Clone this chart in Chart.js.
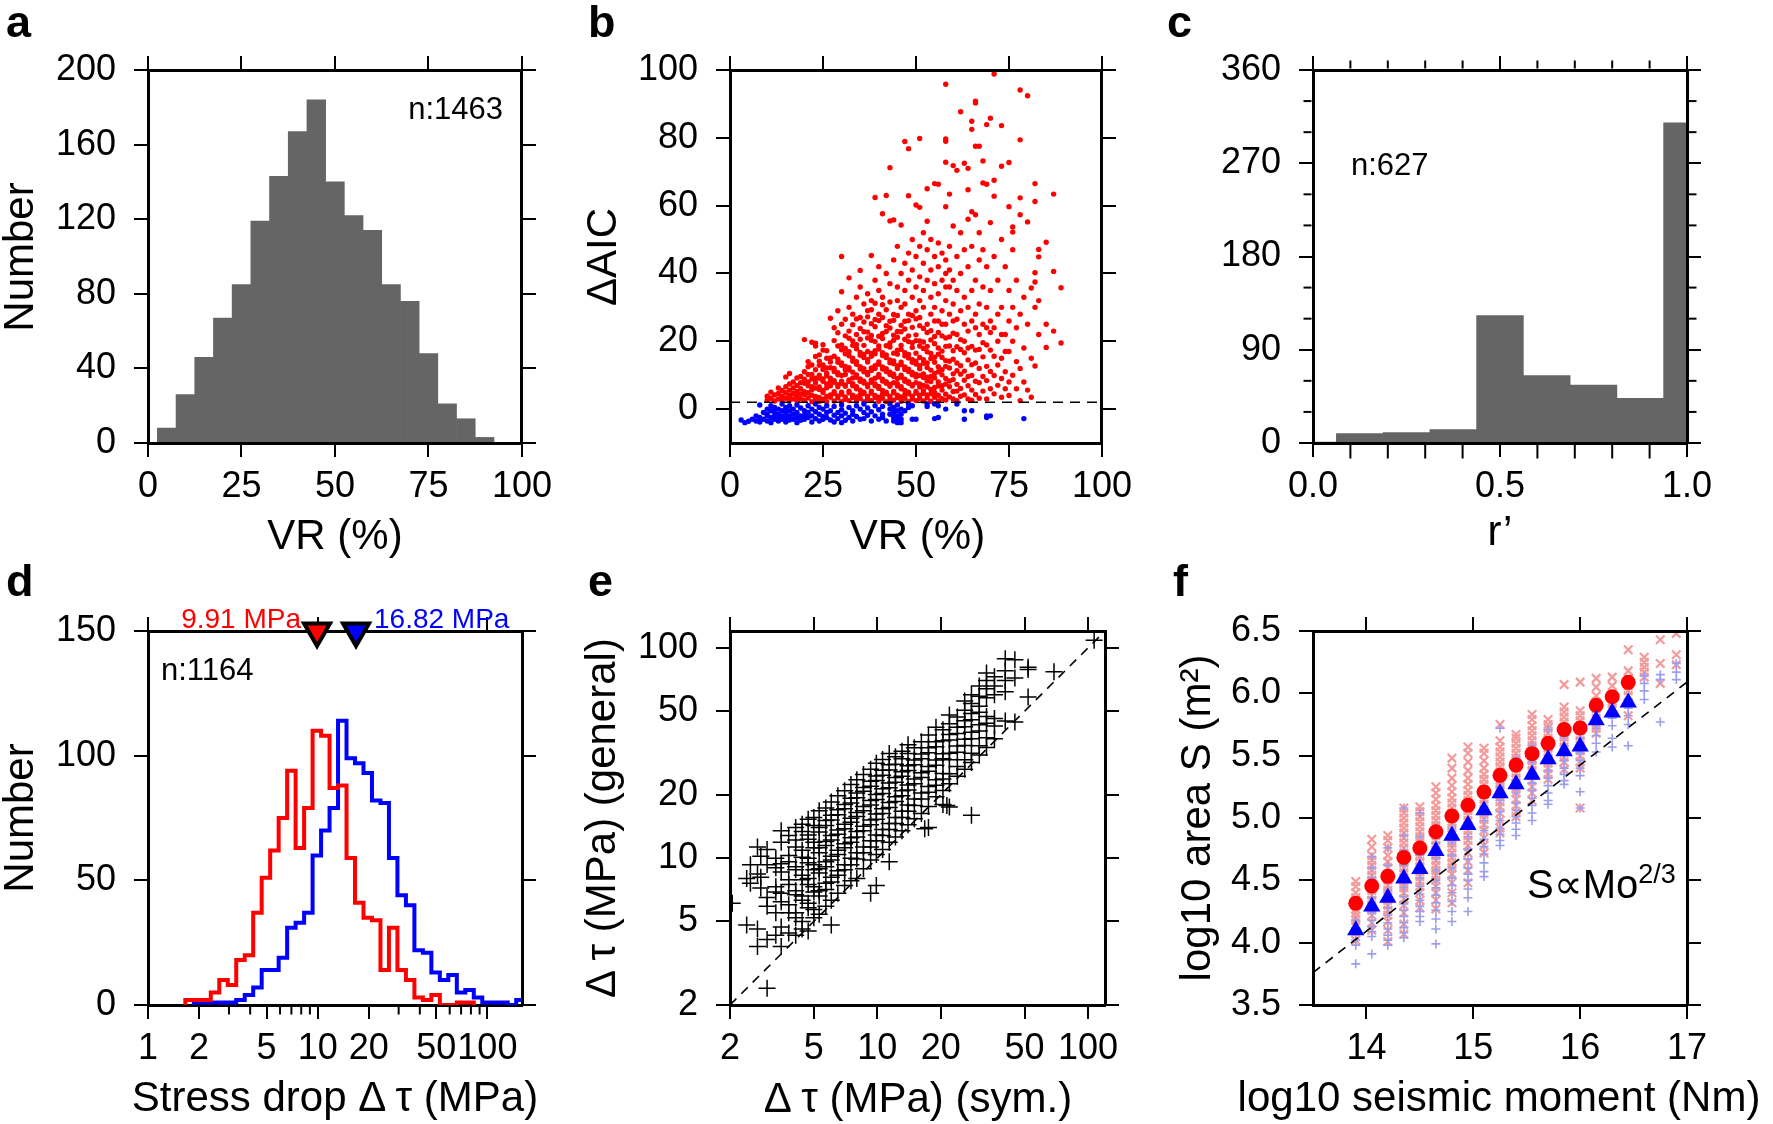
<!DOCTYPE html>
<html>
<head>
<meta charset="utf-8">
<title>Stress drop figure</title>
<script src="https://cdn.jsdelivr.net/npm/chart.js@4.4.1/dist/chart.umd.min.js"></script>
<style>
  html, body { margin: 0; padding: 0; background: #fff; }
  body { position: relative; width: 1773px; height: 1124px; overflow: hidden;
         font-family: "Liberation Sans", Arial, Helvetica, sans-serif; color: #000; }
  canvas { position: absolute; }
  .txt { position: absolute; line-height: 1; white-space: nowrap; }
</style>
</head>
<body>
<canvas id="chartA" width="560" height="560" style="left:0;top:0"></canvas>
<canvas id="chartB" width="580" height="560" style="left:560px;top:0"></canvas>
<canvas id="chartC" width="633" height="560" style="left:1140px;top:0"></canvas>
<canvas id="chartD" width="560" height="564" style="left:0;top:560px"></canvas>
<canvas id="chartE" width="580" height="564" style="left:560px;top:560px"></canvas>
<canvas id="chartF" width="633" height="564" style="left:1140px;top:560px"></canvas>
<script>
// ---------- data ----------
// a: VR histogram (bin centres, counts)
const vrBinCenters = [5, 10, 15, 20, 25, 30, 35, 40, 45, 50, 55, 60, 65, 70, 75, 80, 85, 90];
const vrCounts = [8, 26, 46, 67, 85, 119, 143, 167, 184, 140, 122, 114, 85, 76, 48, 21, 13, 3];

// b: dAIC against VR, red = above 2, blue = below 2
const aicRedVR = [10,11,12,13,14,15,16,17,18,19,20,21,22,23,24,25,26,27,28,29,30,31,32,33,34,35,36,37,38,39,
  40,41,42,43,44,45,46,47,48,49,50,51,52,53,54,55,56,57,58,59,60,61,62,63,64,65,66,67,68,69,70,71,72,73,74,
  75,76,77,78,79,80,81,82,83,85,87,89];
const aicRedVals = [
  [2.6, 3.8],
  [3.2, 5.0],
  [2.4, 4.2],
  [3.0, 4.6, 6.2],
  [2.5, 3.8, 5.5],
  [3.2, 4.8, 6.6, 9.5],
  [2.6, 4.0, 5.6, 7.4, 10.5],
  [3.0, 4.6, 6.2, 8.0],
  [2.4, 3.8, 5.2, 7.0, 9.2],
  [3.1, 4.5, 6.0, 7.8, 9.6],
  [2.6, 4.3, 5.1, 7.6, 8.8, 11.0, 20.5],
  [3.3, 4.8, 6.9, 8.0, 10.2, 12.5, 14.0],
  [2.2, 4.1, 5.7, 6.6, 8.9, 10.2, 13.0, 19.7],
  [3.0, 3.7, 6.2, 7.8, 9.1, 11.6, 15.5, 18.6, 19.4],
  [2.3, 3.4, 5.8, 6.5, 9.1, 10.0, 12.9, 14.1, 16.0],
  [2.9, 4.9, 5.5, 8.2, 8.9, 11.7, 13.0, 17.4, 19.0],
  [2.2, 3.7, 6.3, 7.4, 9.8, 10.6, 12.1, 15.0, 17.2],
  [3.5, 4.2, 6.9, 8.3, 9.1, 12.2, 13.9, 15.1, 26.8],
  [2.4, 4.6, 5.1, 7.9, 8.4, 11.1, 12.0, 15.6, 20.2, 24.0],
  [3.3, 3.9, 6.6, 7.2, 10.1, 10.7, 13.8, 14.7, 18.6, 22.5, 29.0],
  [2.2, 4.4, 5.0, 7.6, 8.2, 9.9, 12.9, 13.6, 17.5, 18.9, 25.0, 34.6, 45.0],
  [2.9, 3.6, 6.7, 7.1, 10.2, 11.6, 12.6, 16.3, 17.9, 21.6, 26.5],
  [2.5, 4.8, 5.3, 8.1, 8.6, 11.5, 12.2, 15.7, 16.9, 20.9, 23.0, 30.0, 38.7],
  [3.4, 4.1, 6.9, 7.5, 9.2, 10.9, 14.1, 15.0, 18.8, 20.1, 24.9, 28.0],
  [2.3, 3.6, 6.0, 6.6, 9.4, 10.1, 13.2, 14.0, 17.8, 19.0, 22.0, 26.6, 33.0],
  [3.2, 4.3, 5.6, 8.2, 8.9, 11.8, 12.5, 15.9, 16.7, 20.6, 23.8, 27.0, 36.0, 40.9],
  [2.2, 4.6, 5.0, 7.7, 8.2, 11.0, 11.9, 15.2, 16.1, 18.8, 22.8, 25.7, 31.0],
  [3.0, 3.7, 6.6, 7.2, 10.1, 10.8, 13.9, 14.6, 17.0, 21.0, 22.7, 27.2, 29.0, 34.0],
  [2.5, 4.7, 5.3, 7.9, 8.6, 11.4, 12.1, 15.6, 16.4, 20.3, 21.7, 25.2, 29.3, 32.0, 45.3],
  [3.4, 4.0, 6.9, 7.4, 9.1, 12.0, 12.8, 16.3, 17.2, 19.9, 24.3, 26.4, 31.2, 38.0, 62.4],
  [2.3, 3.5, 6.1, 6.7, 9.5, 10.2, 13.2, 13.9, 17.7, 18.6, 21.5, 26.1, 28.0, 35.0, 42.0],
  [3.2, 4.4, 5.5, 8.3, 8.8, 11.8, 12.4, 15.8, 16.6, 20.8, 22.3, 27.0, 30.8, 33.0, 57.6],
  [2.2, 4.5, 5.0, 7.6, 8.1, 11.1, 11.9, 15.2, 16.0, 18.7, 22.9, 24.6, 29.3, 40.0, 63.0],
  [3.0, 3.8, 6.7, 7.3, 10.2, 10.9, 13.7, 14.5, 18.3, 19.5, 23.9, 25.9, 31.6, 37.0, 55.5, 71.2],
  [2.6, 4.8, 5.2, 7.8, 9.6, 10.3, 13.4, 14.2, 16.5, 20.3, 21.8, 26.2, 27.9, 44.0, 55.8],
  [3.4, 4.1, 6.8, 7.5, 9.0, 12.0, 12.8, 16.2, 17.4, 21.2, 22.9, 27.6, 32.0, 36.0, 48.0],
  [2.3, 3.6, 6.0, 6.6, 9.4, 10.0, 13.1, 13.8, 17.6, 18.8, 22.8, 24.7, 30.0, 40.0, 54.3],
  [3.2, 4.3, 5.5, 8.2, 8.8, 11.7, 12.4, 15.7, 16.6, 20.6, 23.6, 25.9, 31.0, 35.0, 43.0, 78.9],
  [2.2, 4.5, 5.0, 7.6, 8.1, 11.1, 11.8, 15.1, 16.1, 19.9, 21.6, 26.1, 28.0, 38.0, 46.0, 62.9, 76.8],
  [3.0, 3.8, 6.8, 7.2, 10.1, 10.8, 13.8, 14.6, 18.2, 19.6, 24.1, 27.6, 33.0, 41.0, 50.0],
  [2.5, 4.7, 5.2, 7.8, 9.5, 10.2, 13.3, 14.1, 16.5, 20.2, 21.9, 26.6, 29.0, 36.0, 45.0, 60.2],
  [3.2, 4.1, 6.5, 7.4, 9.9, 11.9, 12.8, 15.2, 18.6, 20.1, 24.6, 27.0, 32.0, 39.0, 48.0, 59.5, 79.8],
  [2.4, 4.6, 5.4, 7.0, 9.3, 10.4, 13.5, 14.6, 17.9, 19.8, 23.8, 30.0, 35.0, 43.0, 52.0],
  [3.3, 4.2, 6.6, 8.3, 9.4, 12.3, 13.6, 16.9, 18.5, 22.6, 25.0, 38.0, 47.0, 55.4, 65.0],
  [2.3, 4.5, 5.8, 8.1, 9.6, 11.5, 14.9, 16.4, 20.4, 23.1, 28.0, 33.0, 41.0, 50.0],
  [3.5, 4.9, 6.4, 9.2, 10.5, 13.8, 15.3, 19.3, 21.4, 26.0, 30.0, 37.0, 45.0, 66.5],
  [2.4, 4.1, 6.8, 8.0, 11.0, 12.5, 16.2, 18.0, 22.6, 26.0, 34.0, 42.0, 49.0, 66.3],
  [3.1, 5.6, 6.9, 10.1, 11.6, 15.2, 17.1, 21.6, 25.0, 29.0, 38.0, 46.0],
  [2.7, 4.4, 7.4, 9.0, 12.6, 14.3, 18.5, 21.0, 25.0, 32.0, 36.0, 40.0, 44.0, 59.7, 72.8, 79.0, 79.7, 95.8],
  [3.6, 6.6, 8.3, 12.1, 14.1, 18.6, 21.3, 28.0, 36.0, 41.0, 48.0, 63.4],
  [3.0, 5.2, 8.7, 10.4, 14.7, 17.2, 22.4, 26.0, 31.0, 38.0, 54.0, 71.8],
  [2.5, 5.3, 7.3, 11.3, 13.6, 18.4, 22.0, 26.5, 35.0, 45.0, 70.4],
  [3.8, 6.1, 10.3, 12.8, 17.6, 20.5, 29.0, 40.0, 52.0, 87.7],
  [4.2, 8.5, 11.2, 16.6, 20.0, 25.0, 33.0, 47.0, 72.5],
  [3.0, 6.9, 9.6, 14.5, 18.0, 23.0, 30.0, 42.0, 56.0, 64.7, 71.0],
  [2.6, 5.6, 9.9, 13.1, 18.5, 26.0, 35.0, 48.0, 58.2, 82.5, 84.9],
  [4.3, 8.2, 13.6, 17.4, 24.0, 28.0, 38.0, 57.3, 77.5, 90.3, 90.8],
  [3.2, 7.8, 12.0, 17.6, 22.0, 31.0, 44.0, 52.0, 77.5],
  [5.3, 9.6, 15.4, 19.6, 25.0, 36.0, 47.0, 66.7, 73.2],
  [3.0, 8.4, 12.6, 18.9, 24.0, 30.0, 42.0, 66.3, 83.9],
  [6.0, 11.1, 17.4, 22.6, 26.0, 35.0, 55.0, 85.8],
  [4.5, 9.9, 15.6, 24.0, 45.0, 62.8, 67.5, 98.8],
  [7.0, 13.0, 20.0, 28.0, 38.0],
  [3.5, 9.0, 15.0, 22.0, 30.0, 50.0, 71.6, 83.6],
  [6.0, 11.0, 17.0, 22.0, 42.0],
  [4.0, 8.0, 17.0, 26.0, 35.0, 59.7, 72.7],
  [10.0, 20.0, 30.0, 47.0, 52.2, 53.7],
  [6.0, 14.0, 24.0, 38.0],
  [2.5, 12.0, 28.0, 57.3, 62.3, 79.4, 94.1],
  [8.0, 18.0, 33.0],
  [5.6, 25.0, 55.2, 92.4],
  [3.5, 15.0, 35.7],
  [12.7, 30.0, 37.5, 40.2, 61.2, 66.5],
  [22.0, 32.0, 44.9, 47.1],
  [18.2, 25.0, 49.2],
  [23.0, 40.6, 63.4],
  [19.5, 35.8]
];
const aicBlueVR = [3,4,5,6,7,8,9,10,11,12,13,14,15,16,17,18,19,20,21,22,23,24,25,26,27,28,29,30,31,32,
  33,34,35,36,37,38,39,40,41,42,43,44,45,46,47,48,49,50,53,55,56,58,61,63,65,69,70,79];
const aicBlueVals = [
  [-3.2], [-4], [-3.6], [-3], [-3.5, -2], [1.2, -2.5, -3.8], [-1, -3], [0, -1.5, -2, -3.5],
  [1, -0.5, -2.5, -4], [0.5, -1, -2, -3], [0, -1.5, -2.5, -3.5], [1.5, -0.5, -2, -3], [0.5, -1, -2.5, -3.8],
  [1, -0.5, -2, -3.2], [0, -1.5, -3], [1.2, -1, -2.5, -4], [0.3, -2, -3.3], [-0.5, -1.8, -3], [1, -1, -2.5],
  [0, -2, -3.8], [1.5, -0.8, -2.8], [0.5, -1.5, -3.5], [0, -2.2, -3], [1, -1, -2.5], [-0.5, -3.2],
  [0.8, -1.8, -3.8], [-1, -2.8], [1.2, -0.2, -2, -4], [-1.2, -3.3], [0.5, -2.5], [-0.5, -1.5, -3.5],
  [1, -2.2], [0, -3], [1.5, -1, -2.8], [0.3, -1.8], [-0.8, -3.5], [1, -2], [-0.2, -3], [0.8, -1.5, -2.5],
  [-3.5], [1.5, 0, -1.5], [0.5, -1, -2.5, -3.5], [1.2, -0.5, -2, -3.2, -4], [0, -1.5, -3, -4], [-0.5],
  [1.5, 0.5], [1, -3], [-3], [1.5, 0.8], [1.5, -2.8], [1, -2.5], [0], [1.5], [-0.5, -3], [-0.5],
  [-2.5, -2], [-2], [-2.8]
];
const aicThreshold = 2;

// c: r' histogram
const rBinCenters = [0, 0.125, 0.25, 0.375, 0.5, 0.625, 0.75, 0.875, 1.0];
const rCounts = [1, 9, 10, 13, 123, 65, 56, 43, 309];

// d: stress drop histograms, log10 bins of 0.05 starting at 0.22
const sdLogStart = 0.22;
const sdLogStep = 0.05;
const sdRedCounts = [2, 2, 2, 5, 10, 8, 18, 20, 37, 51, 62, 75, 94, 63, 79, 110, 108, 87, 88, 59,
  41, 35, 34, 14, 31, 14, 10, 3, 2, 4, 0, 0, 1, 1];
const sdBlueCounts = [0, 1, 1, 1, 1, 1, 2, 4, 7, 14, 14, 19, 31, 33, 37, 60, 70, 79, 114, 99,
  97, 93, 82, 81, 59, 44, 40, 22, 21, 13, 10, 12, 5, 6, 3, 1, 1, 1, 0, 2];
const sdMedians = [9.91, 16.82];

// e: stress drop sym. (x) against general (y)
const symX = [2.05, 2.4, 2.5, 2.7, 2.8, 3.0, 3.3, 3.5, 3.8, 4.1, 4.4, 4.7, 5.0, 5.3, 5.7, 6.05, 6.5, 7.0,
  7.5, 8.0, 8.6, 9.3, 9.9, 10.6, 11.4, 12.2, 13.1, 14.0, 15.0, 16.2, 16.8, 17.5, 19.0, 20.5, 21.4, 22.0,
  24.0, 26.0, 28.0, 30.5, 33.0, 36.0, 40.5, 45.0, 52.0, 69.0, 107];
const generalY = [
  [6.1],
  [4.8, 8.0],
  [7.6, 9.3],
  [3.8, 4.6, 8.4, 11.3],
  [7.2, 8.1, 10.2],
  [2.4, 4.1, 5.9, 6.5, 9.3, 11.0],
  [4.3, 5.5, 6.9, 7.3, 9.0, 10.0],
  [3.8, 4.7, 6.2, 6.8, 8.6, 9.4, 11.9, 13.5],
  [4.4, 5.5, 6.0, 7.5, 7.9, 9.6, 10.3, 12.8],
  [4.3, 5.2, 5.5, 6.7, 7.0, 8.8, 9.1, 11.3, 12.2, 14.0],
  [4.6, 5.0, 6.3, 6.6, 7.9, 8.3, 10.1, 10.9, 13.4, 14.5],
  [4.5, 5.8, 6.1, 7.5, 8.0, 9.5, 10.0, 12.3, 12.9, 15.3],
  [5.2, 5.7, 6.9, 7.3, 8.8, 9.3, 11.2, 11.9, 14.3, 15.6],
  [5.4, 6.6, 7.0, 8.5, 8.9, 10.6, 11.2, 13.3, 14.0, 16.8],
  [5.9, 7.1, 7.6, 9.1, 9.6, 11.5, 12.0, 14.3, 15.1, 17.3],
  [4.8, 6.3, 7.7, 8.1, 9.8, 10.2, 12.2, 12.8, 15.2, 16.0, 18.5],
  [6.8, 8.3, 8.7, 10.4, 10.9, 13.0, 13.6, 16.1, 17.0, 19.8],
  [7.4, 8.8, 9.3, 11.2, 11.7, 13.8, 14.5, 17.2, 18.0, 20.9],
  [7.8, 9.3, 10.0, 11.9, 12.5, 14.8, 15.5, 18.3, 19.3, 22.4],
  [8.0, 9.9, 10.6, 12.6, 13.4, 15.8, 16.5, 19.4, 20.4, 23.6],
  [8.9, 10.6, 11.3, 13.5, 14.2, 16.8, 17.6, 20.8, 21.7, 25.0],
  [6.8, 9.8, 11.3, 12.1, 14.4, 15.2, 17.9, 18.8, 22.0, 23.2, 26.5],
  [7.4, 10.4, 12.1, 12.9, 15.3, 16.2, 19.0, 20.1, 23.4, 24.6, 28.3],
  [11.0, 12.8, 13.7, 16.3, 17.2, 20.3, 21.4, 24.8, 26.2, 29.5],
  [9.6, 11.9, 13.7, 14.6, 17.4, 18.4, 21.6, 22.8, 26.3, 27.8, 31.5],
  [12.6, 14.6, 15.6, 18.6, 19.6, 23.0, 24.2, 28.0, 30.4],
  [13.5, 15.6, 16.7, 19.8, 20.9, 24.5, 25.8, 29.7, 32.3],
  [14.4, 16.7, 17.9, 21.1, 22.3, 26.1, 27.5, 31.5, 34.6],
  [15.4, 17.8, 19.1, 22.6, 23.8, 27.8, 29.3, 33.5],
  [16.3, 19.1, 20.4, 24.2, 25.5, 29.7, 31.3, 35.8],
  [13.8],
  [14.0, 17.6, 20.6, 21.9, 25.9, 27.3, 31.7, 33.5, 38.6],
  [19.6, 22.2, 23.6, 27.7, 29.3, 33.9, 35.8, 42.0],
  [18.0, 21.0, 23.8, 25.3, 29.7, 31.4, 36.2, 40.8],
  [17.8],
  [17.5, 22.6, 25.2, 29.4, 31.6, 36.5, 38.8, 43.6, 48.0],
  [24.5, 27.3, 31.9, 34.2, 39.2, 42.0, 47.0],
  [26.5, 29.4, 34.4, 36.8, 42.2, 45.1, 50.5, 56.0],
  [16.0, 28.5, 31.6, 37.0, 39.7, 45.6, 48.8, 54.5, 60.0],
  [31.0, 34.3, 40.3, 43.1, 49.5, 52.8, 59.0, 66.0],
  [33.6, 37.4, 43.8, 47.2, 58.0, 64.0, 70.0, 76.0],
  [37.0, 42.6, 46.2, 60.0, 66.0, 73.0],
  [45.0, 62.0, 70.0, 78.0, 89.0],
  [44.5, 72.0, 88.0],
  [58.5, 79.0, 81.0],
  [77.0],
  [109]
];

// f: log10 moment against log10 area
const momentCols = [13.9, 14.05, 14.2, 14.35, 14.5, 14.65, 14.8, 14.95, 15.1, 15.25, 15.4, 15.55, 15.7,
  15.85, 16.0, 16.15, 16.3, 16.45, 16.6, 16.75, 16.9];
const areaRedMean = [4.316, 4.455, 4.532, 4.684, 4.759, 4.89, 5.016, 5.102, 5.209, 5.342, 5.425, 5.516,
  5.599, 5.709, 5.722, 5.904, 5.973, 6.088];
const areaBlueMean = [4.10, 4.29, 4.36, 4.515, 4.59, 4.735, 4.857, 4.943, 5.063, 5.199, 5.271, 5.346,
  5.472, 5.536, 5.574, 5.785, 5.846, 5.927];
const areaRedPts = [
  [4.49, 4.45, 4.40, 4.36, 4.33, 4.30, 4.27, 4.24, 4.21, 4.18, 4.14, 4.08, 4.02],
  [4.83, 4.77, 4.70, 4.66, 4.62, 4.58, 4.54, 4.50, 4.46, 4.42, 4.38, 4.34, 4.30, 4.26, 4.22, 4.16, 4.10],
  [4.86, 4.82, 4.76, 4.70, 4.65, 4.60, 4.55, 4.50, 4.46, 4.42, 4.38, 4.34, 4.30, 4.26, 4.22, 4.17, 4.10, 4.01],
  [5.08, 5.04, 5.00, 4.96, 4.92, 4.88, 4.84, 4.80, 4.76, 4.72, 4.68, 4.64, 4.60, 4.56, 4.52, 4.48, 4.44, 4.40, 4.35, 4.30, 4.24, 4.15, 4.07],
  [5.09, 5.05, 5.01, 4.97, 4.93, 4.89, 4.85, 4.81, 4.77, 4.73, 4.69, 4.65, 4.61, 4.57, 4.53, 4.49, 4.45, 4.40, 4.34, 4.28],
  [5.25, 5.20, 5.15, 5.10, 5.06, 5.02, 4.98, 4.94, 4.90, 4.86, 4.82, 4.78, 4.74, 4.70, 4.66, 4.62, 4.58, 4.54, 4.50, 4.45, 4.40, 4.34, 4.27],
  [5.48, 5.40, 5.32, 5.26, 5.21, 5.16, 5.12, 5.08, 5.04, 5.00, 4.96, 4.92, 4.88, 4.84, 4.80, 4.76, 4.72, 4.68, 4.64, 4.60, 4.55, 4.48, 4.40, 4.32],
  [5.57, 5.52, 5.45, 5.38, 5.32, 5.27, 5.22, 5.18, 5.14, 5.10, 5.06, 5.02, 4.98, 4.94, 4.90, 4.86, 4.82, 4.78, 4.72, 4.65, 4.58, 4.48],
  [5.56, 5.52, 5.46, 5.40, 5.35, 5.31, 5.27, 5.23, 5.19, 5.15, 5.11, 5.07, 5.03, 4.99, 4.95, 4.90, 4.84, 4.78, 4.72],
  [5.75, 5.62, 5.57, 5.53, 5.49, 5.45, 5.41, 5.37, 5.33, 5.29, 5.25, 5.21, 5.17, 5.13, 5.09, 5.04, 4.98, 4.92, 4.88],
  [5.67, 5.64, 5.60, 5.56, 5.52, 5.48, 5.44, 5.40, 5.36, 5.32, 5.28, 5.24, 5.20, 5.15, 5.10, 5.05, 5.01],
  [5.83, 5.79, 5.74, 5.70, 5.66, 5.62, 5.58, 5.54, 5.50, 5.46, 5.42, 5.38, 5.34, 5.30, 5.25, 5.20, 5.14],
  [5.79, 5.75, 5.72, 5.68, 5.64, 5.60, 5.56, 5.52, 5.48, 5.44, 5.40, 5.35, 5.31],
  [6.07, 5.89, 5.85, 5.81, 5.77, 5.73, 5.69, 5.65, 5.61, 5.57, 5.53, 5.49, 5.45, 5.39],
  [6.09, 5.86, 5.82, 5.78, 5.74, 5.70, 5.66, 5.62, 5.58, 5.54, 5.50, 5.45, 5.40, 5.08],
  [6.12, 6.05, 5.98, 5.93, 5.88, 5.84, 5.80, 5.76, 5.72, 5.68],
  [6.13, 6.06, 6.00, 5.96, 5.92, 5.88],
  [6.35, 6.18, 6.12, 6.06, 6.02, 5.98, 5.82],
  [6.29, 6.25, 6.21, 6.17, 6.13],
  [6.43, 6.24, 6.08],
  [6.48, 6.31, 6.23]
];
const areaBluePts = [
  [4.18, 4.12, 4.07, 4.02, 3.98, 3.83],
  [4.69, 4.60, 4.52, 4.44, 4.36, 4.30, 4.24, 4.18, 4.13, 4.09, 4.05, 3.91],
  [4.76, 4.62, 4.50, 4.42, 4.35, 4.28, 4.22, 4.16, 4.11, 4.06, 4.02, 3.98],
  [5.08, 4.86, 4.74, 4.62, 4.52, 4.44, 4.37, 4.31, 4.26, 4.21, 4.16, 4.12, 4.08, 4.04],
  [5.04, 4.85, 4.70, 4.60, 4.52, 4.45, 4.39, 4.34, 4.29, 4.25, 4.21, 4.17],
  [4.93, 4.80, 4.68, 4.58, 4.50, 4.44, 4.38, 4.32, 4.26, 4.19, 4.11, 3.99],
  [5.05, 4.92, 4.80, 4.70, 4.60, 4.52, 4.46, 4.40, 4.33, 4.25, 4.17],
  [5.10, 4.95, 4.85, 4.75, 4.67, 4.60, 4.55, 4.50, 4.43, 4.36, 4.25],
  [5.20, 5.08, 4.98, 4.90, 4.83, 4.77, 4.71, 4.64, 4.57, 4.53],
  [5.72, 5.25, 5.14, 5.05, 4.98, 4.92, 4.87, 4.82, 4.78],
  [5.48, 5.30, 5.20, 5.12, 5.06, 5.01, 4.96, 4.91, 4.86],
  [5.58, 5.45, 5.36, 5.28, 5.22, 5.16, 5.10, 5.04, 4.98],
  [5.71, 5.55, 5.45, 5.38, 5.32, 5.26, 5.20, 5.14, 5.11],
  [5.65, 5.58, 5.52, 5.46, 5.40, 5.35, 5.30, 5.27],
  [5.64, 5.58, 5.52, 5.46, 5.40, 5.34, 5.21, 5.08],
  [5.85, 5.78, 5.72, 5.66, 5.60, 5.53],
  [5.93, 5.86, 5.80, 5.74, 5.64, 5.57],
  [5.95, 5.88, 5.82, 5.75, 5.58],
  [6.14, 6.08, 6.02, 5.95],
  [6.15, 6.11, 5.77],
  [6.24, 6.17, 6.11]
];
const scalingLineX = [13.5, 17];
const scalingLineY = [3.76, 6.09];

// ---------- helpers ----------
const FONT = "'Liberation Sans', Arial, Helvetica, sans-serif";
Chart.defaults.font.family = FONT;
Chart.defaults.color = '#000';
Chart.defaults.animation = false;
Chart.defaults.events = [];
Chart.defaults.plugins.legend.display = false;
Chart.defaults.plugins.tooltip.enabled = false;

const RED = '#ff0000', BLUE = '#0000ff';

function makeAxis(pos, type, min, max, vals, size, fmt, borderZ) {
  const horiz = pos === 'top' || pos === 'bottom';
  const main = pos === 'bottom' || pos === 'left';
  return {
    type: type, position: pos, min: min, max: max, offset: false,
    afterBuildTicks: s => { s.ticks = vals.map(v => ({value: v})); },
    afterFit: s => { if (horiz) s.height = size; else s.width = size; },
    border: {display: true, color: '#000', width: 3, z: borderZ || 0},
    grid: {display: true, offset: false, drawOnChartArea: false, drawTicks: true,
           tickLength: 14, tickWidth: 2, tickColor: '#000', color: '#000', lineWidth: 2},
    ticks: {display: main, autoSkip: false, maxRotation: 0, minRotation: 0,
            padding: horiz ? 8 : 18, color: '#000', font: {size: 36, family: FONT},
            callback: fmt || (v => String(v))}
  };
}

// short extra ticks drawn at positions given by the chart's own scales
const minorTicks = {
  id: 'minorTicks',
  afterDraw(chart, args, opts) {
    const ctx = chart.ctx, area = chart.chartArea;
    ctx.save();
    ctx.strokeStyle = '#000';
    ctx.lineWidth = 2;
    (opts.list || []).forEach(m => {
      const s = chart.scales[m.axis];
      m.values.forEach(v => {
        const p = s.getPixelForValue(v);
        ctx.beginPath();
        if (s.position === 'bottom') { ctx.moveTo(p, area.bottom + 1.5); ctx.lineTo(p, area.bottom + 1.5 + m.len); }
        else if (s.position === 'top') { ctx.moveTo(p, area.top - 1.5); ctx.lineTo(p, area.top - 1.5 - m.len); }
        else if (s.position === 'left') { ctx.moveTo(area.left - 1.5, p); ctx.lineTo(area.left - 1.5 - m.len, p); }
        else { ctx.moveTo(area.right + 1.5, p); ctx.lineTo(area.right + 1.5 + m.len, p); }
        ctx.stroke();
      });
    });
    ctx.restore();
  }
};

function baseOptions(scales, minor) {
  return {
    responsive: false, maintainAspectRatio: false,
    layout: {padding: 0},
    scales: scales,
    plugins: {legend: {display: false}, tooltip: {enabled: false}, minorTicks: {list: minor || []}}
  };
}

function flatten(xs, groups) {
  const pts = [];
  xs.forEach((x, i) => (groups[i] || []).forEach(y => pts.push({x: x, y: y})));
  return pts;
}

// layout sizes of the axis boxes (px) for each column / row
const colLeft = [148, 170, 173], colRight = [38, 35, 86];
const rowTop = [70, 71], rowBottom = [117, 119];

// ---------- a ----------
new Chart(document.getElementById('chartA'), {
  type: 'bar',
  data: {datasets: [{
    data: vrBinCenters.map((x, i) => ({x: x, y: vrCounts[i]})),
    backgroundColor: '#656565', borderWidth: 0, barPercentage: 1, categoryPercentage: 1, clip: 0
  }]},
  options: baseOptions({
    x: makeAxis('bottom', 'linear', 0, 100, [0, 25, 50, 75, 100], rowBottom[0], null, 1),
    x2: makeAxis('top', 'linear', 0, 100, [0, 25, 50, 75, 100], rowTop[0], null, 1),
    y: makeAxis('left', 'linear', 0, 200, [0, 40, 80, 120, 160, 200], colLeft[0], null, 1),
    y2: makeAxis('right', 'linear', 0, 200, [0, 40, 80, 120, 160, 200], colRight[0], null, 1)
  }),
  plugins: [minorTicks]
});

// ---------- b ----------
new Chart(document.getElementById('chartB'), {
  type: 'scatter',
  data: {datasets: [
    {data: [{x: 0, y: aicThreshold}, {x: 100, y: aicThreshold}], showLine: true, borderColor: '#000',
     borderWidth: 1.6, borderDash: [10, 7], pointRadius: 0},
    {data: flatten(aicBlueVR, aicBlueVals), backgroundColor: BLUE, borderWidth: 0, pointRadius: 2.7},
    {data: flatten(aicRedVR, aicRedVals), backgroundColor: RED, borderWidth: 0, pointRadius: 2.7}
  ]},
  options: baseOptions({
    x: makeAxis('bottom', 'linear', 0, 100, [0, 25, 50, 75, 100], rowBottom[0], null, 1),
    x2: makeAxis('top', 'linear', 0, 100, [0, 25, 50, 75, 100], rowTop[0], null, 1),
    y: makeAxis('left', 'linear', -10, 100, [0, 20, 40, 60, 80, 100], colLeft[1], null, 1),
    y2: makeAxis('right', 'linear', -10, 100, [0, 20, 40, 60, 80, 100], colRight[1], null, 1)
  }),
  plugins: [minorTicks]
});

// ---------- c ----------
const rMinor = [0.1, 0.2, 0.3, 0.4, 0.6, 0.7, 0.8, 0.9];
const cMinorY = [30, 60, 120, 150, 210, 240, 300, 330];
new Chart(document.getElementById('chartC'), {
  type: 'bar',
  data: {datasets: [{
    data: rBinCenters.map((x, i) => ({x: x, y: rCounts[i]})),
    backgroundColor: '#656565', borderWidth: 0, barPercentage: 1, categoryPercentage: 1, clip: 0
  }]},
  options: baseOptions({
    x: makeAxis('bottom', 'linear', 0, 1, [0, 0.5, 1], rowBottom[0], v => v.toFixed(1), 1),
    x2: makeAxis('top', 'linear', 0, 1, [0, 0.5, 1], rowTop[0], null, 1),
    y: makeAxis('left', 'linear', 0, 360, [0, 90, 180, 270, 360], colLeft[2], null, 1),
    y2: makeAxis('right', 'linear', 0, 360, [0, 90, 180, 270, 360], colRight[2], null, 1)
  }, [
    {axis: 'x', values: rMinor, len: 14},
    {axis: 'x2', values: rMinor, len: 8},
    {axis: 'y', values: cMinorY, len: 8},
    {axis: 'y2', values: cMinorY, len: 8}
  ]),
  plugins: [minorTicks]
});

// ---------- d ----------
function stepPoints(counts) {
  let first = 0;
  while (first < counts.length && counts[first] === 0) first++;
  const edge = i => Math.pow(10, sdLogStart + sdLogStep * i);
  const pts = [{x: edge(first), y: 0}];
  for (let i = first; i < counts.length; i++) pts.push({x: edge(i + 1), y: counts[i]});
  pts.push({x: edge(counts.length), y: 0});
  return pts;
}
new Chart(document.getElementById('chartD'), {
  type: 'scatter',
  data: {datasets: [
    {data: [{x: sdMedians[0], y: 150}], pointStyle: 'triangle', rotation: 180, pointRadius: 15,
     backgroundColor: RED, borderColor: '#000', borderWidth: 4, clip: false},
    {data: [{x: sdMedians[1], y: 150}], pointStyle: 'triangle', rotation: 180, pointRadius: 15,
     backgroundColor: BLUE, borderColor: '#000', borderWidth: 4, clip: false},
    {data: stepPoints(sdRedCounts), showLine: true, stepped: 'after', borderColor: RED, borderWidth: 4,
     pointRadius: 0},
    {data: stepPoints(sdBlueCounts), showLine: true, stepped: 'after', borderColor: BLUE, borderWidth: 4,
     pointRadius: 0}
  ]},
  options: baseOptions({
    x: makeAxis('bottom', 'logarithmic', 1, 160, [1, 2, 5, 10, 20, 50, 100], rowBottom[1]),
    x2: makeAxis('top', 'logarithmic', 1, 160, [1, 10, 100], rowTop[1]),
    y: makeAxis('left', 'linear', 0, 150, [0, 50, 100, 150], colLeft[0]),
    y2: makeAxis('right', 'linear', 0, 150, [0, 50, 100, 150], colRight[0])
  }, [
    {axis: 'x', values: [3, 4, 6, 7, 8, 9, 30, 40, 60, 70, 80, 90], len: 8}
  ]),
  plugins: [minorTicks]
});

// ---------- e ----------
const eTicks = [2, 5, 10, 20, 50, 100];
new Chart(document.getElementById('chartE'), {
  type: 'scatter',
  data: {datasets: [
    {data: [{x: 2, y: 2}, {x: 120.5, y: 120.5}], showLine: true, borderColor: '#000', borderWidth: 1.6,
     borderDash: [9, 7], pointRadius: 0},
    {data: flatten(symX, generalY), pointStyle: 'cross', pointRadius: 8.5, borderColor: '#000',
     borderWidth: 1.5, backgroundColor: '#000', clip: 0}
  ]},
  options: baseOptions({
    x: makeAxis('bottom', 'logarithmic', 2, 120.5, eTicks, rowBottom[1], null, 1),
    x2: makeAxis('top', 'logarithmic', 2, 120.5, eTicks, rowTop[1], null, 1),
    y: makeAxis('left', 'logarithmic', 2, 120.5, eTicks, colLeft[1], null, 1),
    y2: makeAxis('right', 'logarithmic', 2, 120.5, eTicks, colRight[1], null, 1)
  }),
  plugins: [minorTicks]
});

// ---------- f ----------
const fY = [3.5, 4.0, 4.5, 5.0, 5.5, 6.0, 6.5];
const fFmt = v => v.toFixed(1);
new Chart(document.getElementById('chartF'), {
  type: 'scatter',
  data: {datasets: [
    {data: momentCols.slice(0, areaBlueMean.length).map((x, i) => ({x: x, y: areaBlueMean[i]})),
     pointStyle: 'triangle', pointRadius: 10, backgroundColor: BLUE, borderWidth: 0},
    {data: momentCols.slice(0, areaRedMean.length).map((x, i) => ({x: x, y: areaRedMean[i]})),
     pointStyle: 'circle', pointRadius: 7.5, backgroundColor: RED, borderWidth: 0},
    {data: [{x: scalingLineX[0], y: scalingLineY[0]}, {x: scalingLineX[1], y: scalingLineY[1]}],
     showLine: true, borderColor: '#000', borderWidth: 1.6, borderDash: [9, 7], pointRadius: 0},
    {data: flatten(momentCols, areaBluePts), pointStyle: 'cross', pointRadius: 4.5,
     borderColor: '#9d9df0', borderWidth: 1.6},
    {data: flatten(momentCols, areaRedPts), pointStyle: 'crossRot', pointRadius: 6,
     borderColor: '#f39a9a', borderWidth: 2.2}
  ]},
  options: baseOptions({
    x: makeAxis('bottom', 'linear', 13.5, 17, [14, 15, 16, 17], rowBottom[1], null, 1),
    x2: makeAxis('top', 'linear', 13.5, 17, [14, 15, 16, 17], rowTop[1], null, 1),
    y: makeAxis('left', 'linear', 3.5, 6.5, fY, colLeft[2], fFmt, 1),
    y2: makeAxis('right', 'linear', 3.5, 6.5, fY, colRight[2], fFmt, 1)
  }),
  plugins: [minorTicks]
});

// ---------- text ----------
function putText(html, x, baseline, size, opt) {
  opt = opt || {};
  const d = document.createElement('div');
  d.className = 'txt';
  d.innerHTML = html;
  d.style.fontSize = size + 'px';
  if (opt.bold) d.style.fontWeight = 'bold';
  if (opt.color) d.style.color = opt.color;
  d.style.left = x + 'px';
  d.style.top = (baseline - 0.8465 * size) + 'px';
  if (opt.align === 'center') d.style.transform = 'translateX(-50%)';
  if (opt.align === 'right') d.style.transform = 'translateX(-100%)';
  document.body.appendChild(d);
}
function putVText(text, baselineX, cy, size) {
  const d = document.createElement('div');
  d.className = 'txt';
  d.textContent = text;
  d.style.fontSize = size + 'px';
  d.style.left = (baselineX - 0.3465 * size) + 'px';
  d.style.top = cy + 'px';
  d.style.transform = 'translate(-50%, -50%) rotate(-90deg)';
  document.body.appendChild(d);
}

// panel letters
putText('a', 6, 37, 45, {bold: true});
putText('b', 588, 37, 45, {bold: true});
putText('c', 1167, 37, 45, {bold: true});
putText('d', 6, 596, 45, {bold: true});
putText('e', 588, 596, 45, {bold: true});
putText('f', 1173, 596, 45, {bold: true});

// axis titles
putText('VR (%)', 335, 550, 42, {align: 'center'});
putText('VR (%)', 917.5, 550, 42, {align: 'center'});
putText('r\u2019', 1500, 546, 42, {align: 'center'});
putText('Stress drop \u0394 \u03c4 (MPa)', 335, 1112, 42, {align: 'center'});
putText('\u0394 \u03c4 (MPa) (sym.)', 918, 1113, 42, {align: 'center'});
putText('log10 seismic moment (Nm)', 1499, 1112, 42, {align: 'center'});
putVText('Number', 34, 256.5, 42);
putVText('\u0394AIC', 617, 256.5, 42);
putVText('Number', 34, 818, 42);
putVText('\u0394 \u03c4 (MPa) (general)', 616, 818, 42);
putVText('log10 area S (m\u00b2)', 1211, 818, 42);

// annotations
putText('n:1463', 503, 119, 31, {align: 'right'});
putText('n:627', 1351, 175, 31);
putText('n:1164', 161, 680, 31);
putText('9.91 MPa', 301, 629, 28, {align: 'right', color: RED});
putText('16.82 MPa', 374, 629, 28, {color: BLUE});
putText('S\u221dMo<span style="font-size:27px;position:relative;top:-15px">2/3</span>', 1527, 898, 40);
</script>
</body>
</html>
